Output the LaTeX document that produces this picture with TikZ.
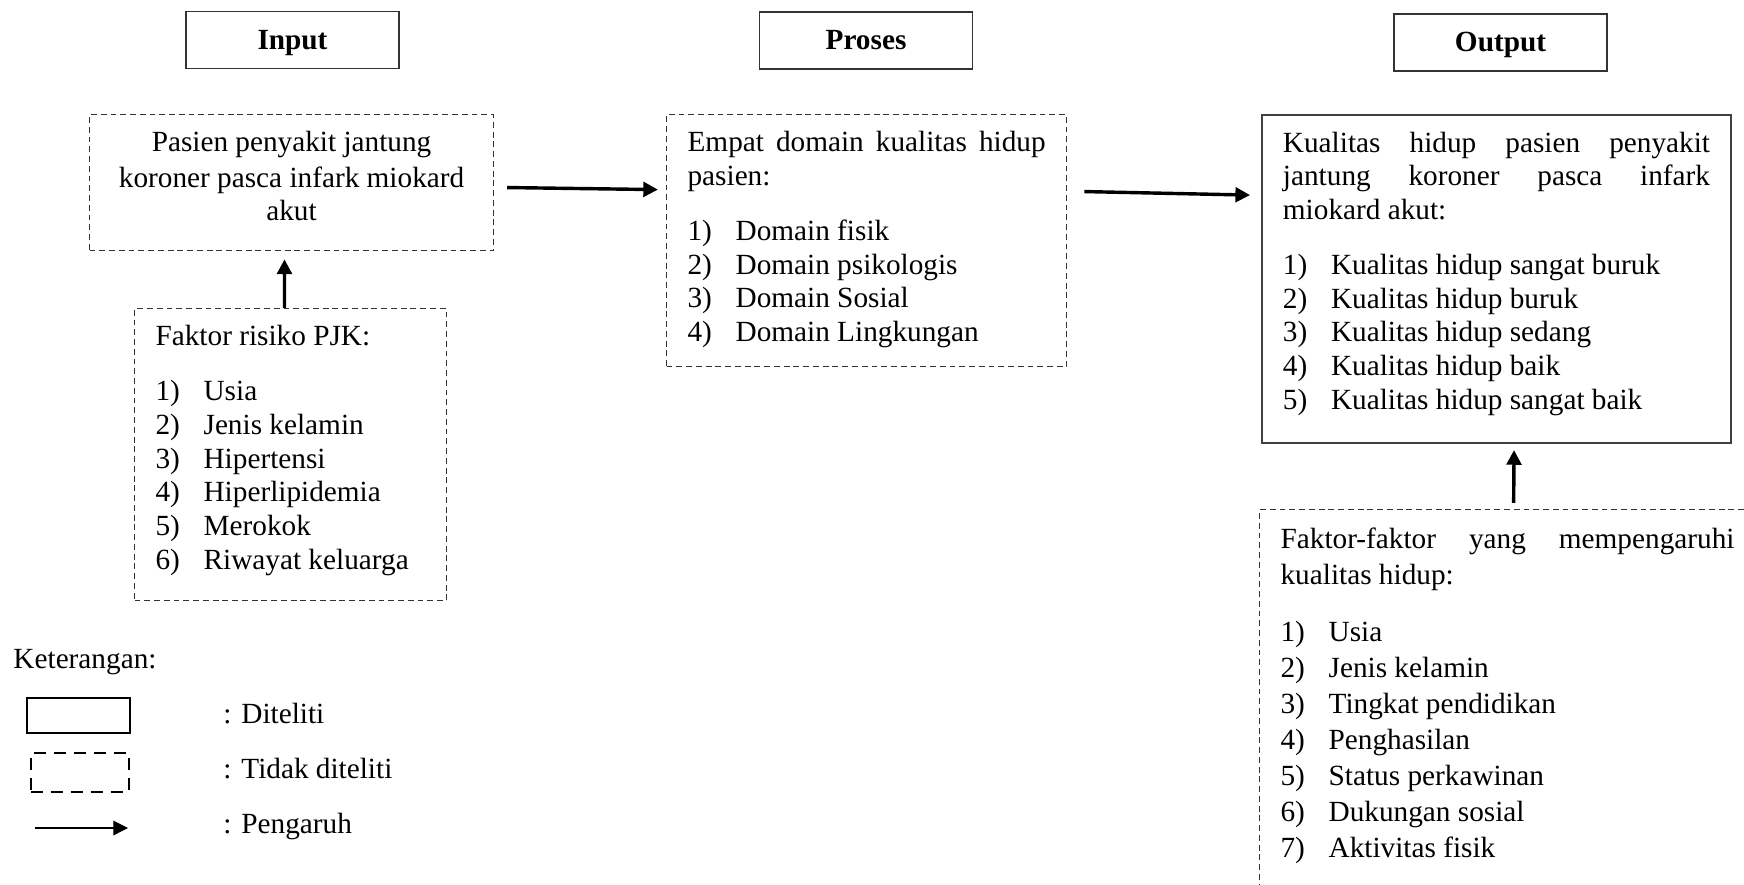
\documentclass[tikz,border=0pt]{standalone}
\usepackage{fontspec}
\setmainfont{Liberation Serif}
\usetikzlibrary{arrows.meta}
\hyphenpenalty=10000
\exhyphenpenalty=10000
\tolerance=9999
\emergencystretch=3em
\newcommand{\boxtext}[3]{\parbox[c][#2][t]{#1}{\vspace*{5.6pt}\strut#3}}
\newcommand{\nomor}[1]{\makebox[19.7pt][l]{#1}}
\begin{document}
\begin{tikzpicture}[x=0.41pt, y=-0.41pt, font=\fontsize{12}{13.8}\selectfont]
\tikzset{
  headbox/.style={draw=black!80, line width=0.6pt, minimum width=87.3pt, minimum height=23.4pt, inner sep=0pt, text height=8.2pt, text depth=0.6pt, font=\fontsize{12}{13.8}\selectfont\bfseries},
  dashbox/.style={draw=black!80, line width=0.5pt, dash pattern=on 2.4pt off 1.6pt, inner xsep=8.6pt, inner ysep=0pt, anchor=north west},
  solidbox/.style={draw=black!75, line width=0.8pt, inner xsep=8.6pt, inner ysep=0pt, anchor=north west},
  arr/.style={line width=1.4pt, -{Triangle[length=6pt,width=6pt]}},
  legarr/.style={line width=0.5pt, -{Triangle[length=6pt,width=6pt]}},
  lbl/.style={anchor=base west, inner sep=0pt}
}
\useasboundingbox (0,0) rectangle (1744,884);
\clip (0,0) rectangle (1744,884);
% judul kolom
\node[headbox] (input) at (292.5,40) {Input};
\node[headbox] (proses) at (866,40.5) {Proses};
\node[headbox] (output) at (1500.5,42.5) {Output};
% kotak input
\node[dashbox] (pasien) at (89,114) {\boxtext{148.4pt}{55.8pt}{\vspace*{0.7pt}\centering Pasien penyakit jantung\\koroner pasca infark miokard\\akut\par}};
\node[dashbox] (faktorpjk) at (134,308) {\boxtext{110.7pt}{119.7pt}{Faktor risiko PJK:\par\vspace{8.8pt}
\nomor{1)}Usia\par
\nomor{2)}Jenis kelamin\par
\nomor{3)}Hipertensi\par
\nomor{4)}Hiperlipidemia\par
\nomor{5)}Merokok\par
\nomor{6)}Riwayat keluarga\par}};
% kotak proses
\node[dashbox] (empat) at (666,114) {\boxtext{146.8pt}{103.3pt}{Empat domain kualitas hidup pasien:\par\vspace{8.8pt}
\nomor{1)}Domain fisik\par
\nomor{2)}Domain psikologis\par
\nomor{3)}Domain Sosial\par
\nomor{4)}Domain Lingkungan\par}};
% kotak output
\node[solidbox] (hasil) at (1261,114) {\boxtext{175.1pt}{134.5pt}{Kualitas hidup pasien penyakit jantung koroner pasca infark miokard akut:\par\vspace{8.8pt}
\nomor{1)}Kualitas hidup sangat buruk\par
\nomor{2)}Kualitas hidup buruk\par
\nomor{3)}Kualitas hidup sedang\par
\nomor{4)}Kualitas hidup baik\par
\nomor{5)}Kualitas hidup sangat baik\par}};
\node[dashbox] (faktorkh) at (1259,509) {\fontsize{12}{14.76}\selectfont\boxtext{186.1pt}{164pt}{Faktor-faktor yang mempengaruhi kualitas hidup:\par\vspace{8.8pt}
\nomor{1)}Usia\par
\nomor{2)}Jenis kelamin\par
\nomor{3)}Tingkat pendidikan\par
\nomor{4)}Penghasilan\par
\nomor{5)}Status perkawinan\par
\nomor{6)}Dukungan sosial\par
\nomor{7)}Aktivitas fisik\par}};
% panah
\draw[arr] ([xshift=5.3pt,yshift=-2pt]pasien.east) -- ([xshift=-3.3pt,yshift=20.9pt]empat.west);
\draw[arr] ([xshift=7pt,yshift=20.1pt]empat.east) -- ([xshift=-4.5pt,yshift=34.4pt]hasil.west);
\draw[arr] ([xshift=-2.5pt]faktorpjk.north) -- ([xshift=-2.9pt,yshift=-3.3pt]pasien.south);
\draw[arr] ([xshift=2.5pt,yshift=2.5pt]faktorkh.north) -- ([xshift=7.2pt,yshift=-2.5pt]hasil.south);
% keterangan
\node[lbl] (ket) at (13,668) {Keterangan:};
\node[draw, line width=1.1pt, minimum width=42.2pt, minimum height=14.35pt, inner sep=0pt] (legdit) at (78.5,715.5) {};
\node[draw, line width=1.1pt, dash pattern=on 4.9pt off 3.3pt, minimum width=40.2pt, minimum height=16pt, inner sep=0pt] (legtdk) at (80,772.5) {};
\coordinate (legA) at (35,828);
\coordinate (legB) at (128,828);
\draw[legarr] (legA) -- (legB);
\node[lbl] (ketdit) at (223,723) {: Diteliti};
\node[lbl] (kettdk) at (223,778) {: Tidak diteliti};
\node[lbl] (ketpgr) at (223,833) {: Pengaruh};
\end{tikzpicture}
\end{document}
